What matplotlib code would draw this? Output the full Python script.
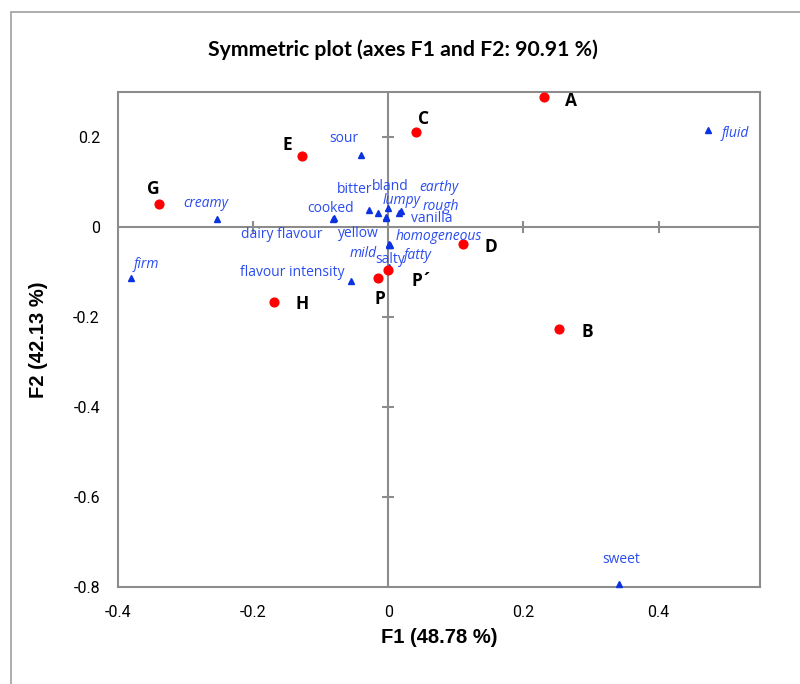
import matplotlib
matplotlib.use("Agg")
import matplotlib.pyplot as plt
from matplotlib.patches import Rectangle

# ---- data ----
obj_names = ["A", "B", "C", "D", "E", "G", "H", "P", "P´"]
obj_f1 = [0.231, 0.252, 0.041, 0.111, -0.127, -0.339, -0.169, -0.015, 0.000]
obj_f2 = [0.290, -0.227, 0.212, -0.038, 0.158, 0.051, -0.167, -0.114, -0.096]

attr_names = ["fluid", "sour", "creamy", "firm", "sweet", "flavour intensity",
              "cooked", "dairy flavour", "bitter", "yellow", "bland", "lumpy",
              "vanilla", "earthy", "rough", "homogeneous", "mild", "fatty", "salty"]
attr_f1 = [0.473, -0.040, -0.253, -0.381, 0.342, -0.055,
           -0.081, -0.082, -0.028, -0.016, -0.001, -0.004,
           -0.003, 0.016, 0.019, 0.001, 0.002, 0.001, 0.001]
attr_f2 = [0.216, 0.160, 0.018, -0.114, -0.793, -0.120,
           0.020, 0.018, 0.038, 0.031, 0.042, 0.022,
           0.020, 0.031, 0.036, -0.040, -0.039, -0.038, -0.089]
attr_italic = ["fluid", "creamy", "firm", "lumpy", "earthy", "rough",
               "homogeneous", "mild", "fatty"]

x_ticks = [-0.4, -0.2, 0, 0.2, 0.4]
x_tick_labels = ["-0.4", "-0.2", "0", "0.2", "0.4"]
y_ticks = [-0.8, -0.6, -0.4, -0.2, 0, 0.2]
y_tick_labels = ["-0.8", "-0.6", "-0.4", "-0.2", "0", "0.2"]

title = "Symmetric plot (axes F1 and F2: 90.91 %)"
xlabel = "F1 (48.78 %)"
ylabel = "F2 (42.13 %)"

# label offsets in pixels (dx right, dy up)
obj_off = {"A": (27, -4), "B": (29, -3), "C": (8, 13), "D": (28, -3),
           "E": (-15, 11), "G": (-6, 15), "H": (28, -2), "P": (2, -21),
           "P´": (34, -11)}
attr_off = {"fluid": (27, -4), "sour": (-17, 16), "creamy": (-12, 15),
            "firm": (15, 14), "sweet": (2, 24), "flavour intensity": (-59, 8),
            "cooked": (-3, 9), "dairy flavour": (-51, -16), "bitter": (-15, 20),
            "yellow": (-19, -20), "bland": (3, 22), "lumpy": (16, 17),
            "vanilla": (45, 0), "earthy": (40, 26), "rough": (40, 4),
            "homogeneous": (50, 8), "mild": (-26, -9), "fatty": (29, -11),
            "salty": (1, 8)}

DPI = 100
fig = plt.figure(figsize=(8.0, 6.84), dpi=DPI)
ax = fig.add_axes([118/800, 1-587/684, (760-118)/800, (587-92)/684])

grey = "#8c8c8c"
ax.set_xlim(-0.4, 0.55)
ax.set_ylim(-0.8, 0.3)
for s in ax.spines.values():
    s.set_color(grey)
    s.set_linewidth(1.5)

ax.axhline(0, color=grey, lw=1.5, zorder=1)
ax.axvline(0, color=grey, lw=1.5, zorder=1)
xm = [t for t in x_ticks if t not in (0, x_ticks[0])]
ym = [t for t in y_ticks if t not in (0, y_ticks[0])]
ax.plot(xm, [0]*len(xm), ls="none", marker="|", ms=8.5, mew=1.5, color=grey, zorder=1)
ax.plot([0]*len(ym), ym, ls="none", marker="_", ms=8.5, mew=1.5, color=grey, zorder=1)

ax.set_xticks(x_ticks)
ax.set_xticklabels(x_tick_labels)
ax.set_yticks(y_ticks)
ax.set_yticklabels(y_tick_labels)
ax.tick_params(length=0, pad=13, labelsize=11.5)
for lab in ax.get_xticklabels() + ax.get_yticklabels():
    lab.set_fontfamily(["Liberation Sans Narrow", "Roboto", "DejaVu Sans"])

ax.set_xlabel(xlabel, fontsize=14.5, fontweight="bold", family="Liberation Sans", labelpad=6)
ax.set_ylabel(ylabel, fontsize=14.5, fontweight="bold", family="Liberation Sans", labelpad=18)

fig.text(403/800, 1-50/684, title, ha="center", va="center",
         fontsize=15.3, fontweight="bold", family="Lato")

blue_txt = "#2a4cf0"
blue_mk = "#0a32e0"
ax.plot(attr_f1, attr_f2, ls="none", marker="^", ms=4.5, color=blue_mk, zorder=3, clip_on=False)
ax.plot(obj_f1, obj_f2, ls="none", marker="o", ms=6.3, color="#ff0000", zorder=4)

k = 72.0 / DPI
for n, x, y in zip(attr_names, attr_f1, attr_f2):
    dx, dy = attr_off[n]
    ax.annotate(n, (x, y), xytext=(dx*k, dy*k), textcoords="offset points",
                ha="center", va="center", fontsize=10, color=blue_txt,
                family="Open Sans",
                style="italic" if n in attr_italic else "normal", zorder=5)
for n, x, y in zip(obj_names, obj_f1, obj_f2):
    dx, dy = obj_off[n]
    ax.annotate(n, (x, y), xytext=(dx*k, dy*k), textcoords="offset points",
                ha="center", va="center", fontsize=12.5, color="black",
                family="Open Sans", fontweight="bold", zorder=5)

fig.add_artist(Rectangle((11/800, -0.1), 1.0, 1-12/684+0.1,
                         transform=fig.transFigure, fill=False,
                         edgecolor="#a0a0a0", lw=1.2, clip_on=False))

fig.savefig("out.png", dpi=DPI)
